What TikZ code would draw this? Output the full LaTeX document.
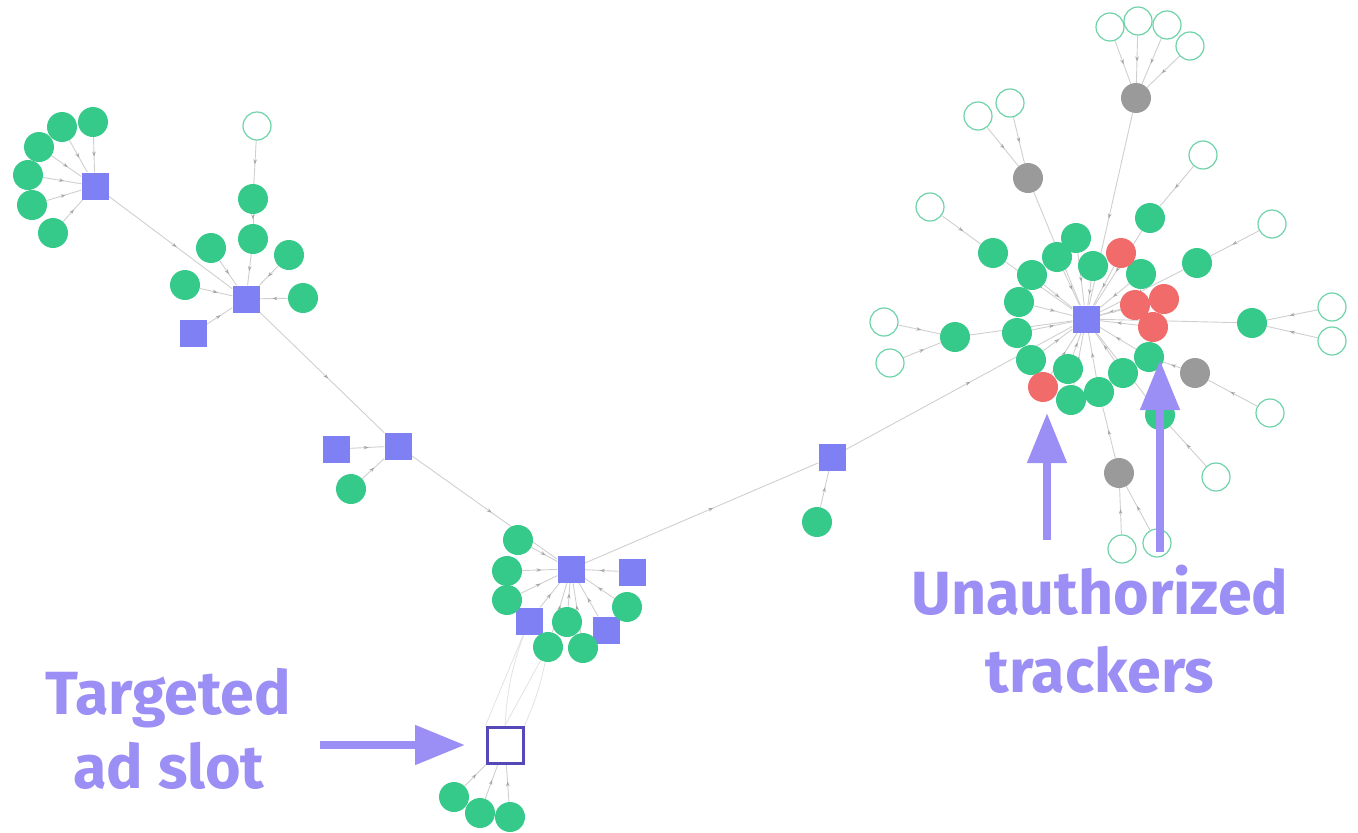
\documentclass[tikz,border=0pt]{standalone}
\usepackage{fontspec}
\newfontfamily\calloutfont{Fira Sans}
\usetikzlibrary{arrows.meta,decorations.markings}
\pgfdeclarelayer{background}
\pgfsetlayers{background,main}
\definecolor{sitegreen}{HTML}{35C98A}
\definecolor{pageblue}{HTML}{8080F5}
\definecolor{trackred}{HTML}{F26B6B}
\definecolor{cdngray}{HTML}{9A9A9A}
\definecolor{leafgreen}{HTML}{6ED3A8}
\definecolor{edgegray}{HTML}{CFCFCF}
\definecolor{calloutpurple}{HTML}{9B8FF5}
\definecolor{slotpurple}{HTML}{5548B8}
\tikzset{
  site/.style={circle,fill=sitegreen,inner sep=0,minimum size=30pt},
  tracker/.style={circle,fill=trackred,inner sep=0,minimum size=30pt},
  cdn/.style={circle,fill=cdngray,inner sep=0,minimum size=30pt},
  leaf/.style={circle,draw=leafgreen,line width=1.2pt,fill=white,inner sep=0,minimum size=28pt},
  frame/.style={rectangle,fill=pageblue,inner sep=0,minimum size=27pt},
  slotbox/.style={rectangle,draw=slotpurple,line width=3pt,fill=white,inner sep=0,minimum size=36pt},
  callout/.style={font=\calloutfont\bfseries\fontsize{61}{72}\selectfont,text=calloutpurple,inner sep=0,anchor=base},
  callarrow/.style={draw=calloutpurple,line width=8pt,-{Triangle[length=50pt,width=38pt]}}
}
\begin{document}
\begin{tikzpicture}[x=1pt,y=-1pt]
\useasboundingbox (0,0) rectangle (1358,833);
        % pages and frames
        \begin{scope}[every node/.style={frame}]
        \node (frameA) at (95,186) {};
        \node (frameB) at (246,299) {};
        \node (frameB2) at (193,333) {};
        \node (frameC) at (336,449) {};
        \node (frameD) at (398,446) {};
        \node (frameE) at (571,569) {};
        \node (frameE1) at (529,621) {};
        \node (frameE2) at (606,630) {};
        \node (frameE3) at (632,572) {};
        \node (frameF) at (832,457) {};
        \node (hub) at (1086,319) {};
        \end{scope}
        \node[slotbox] (slot) at (505,745) {};
        % first party sites
        \begin{scope}[every node/.style={site}]
        \node (sA1) at (93,122) {};
        \node (sA2) at (62,127) {};
        \node (sA3) at (39,147) {};
        \node (sA4) at (28,175) {};
        \node (sA5) at (32,205) {};
        \node (sA6) at (53,233) {};
        \node (sB1) at (185,285) {};
        \node (sB2) at (211,248) {};
        \node (sB3) at (253,239) {};
        \node (sB4) at (289,255) {};
        \node (sB5) at (303,298) {};
        \node (sB6) at (253,199) {};
        \node (sD1) at (351,489) {};
        \node (sE1) at (518,540) {};
        \node (sE2) at (507,571) {};
        \node (sE3) at (507,600) {};
        \node (sE4) at (567,622) {};
        \node (sE5) at (548,647) {};
        \node (sE6) at (583,648) {};
        \node (sE7) at (627,607) {};
        \node (sS1) at (454,797) {};
        \node (sS2) at (480,813) {};
        \node (sS3) at (510,817) {};
        \node (sF1) at (817,522) {};
        \node (h1) at (1032,275) {};
        \node (h2) at (1057,257) {};
        \node (h3) at (1076,238) {};
        \node (h4) at (1093,266) {};
        \node (h5) at (1141,274) {};
        \node (h6) at (1019,302) {};
        \node (h7) at (1017,333) {};
        \node (h8) at (1031,360) {};
        \node (h9) at (1068,369) {};
        \node (h10) at (1071,400) {};
        \node (h11) at (1099,392) {};
        \node (h12) at (1123,373) {};
        \node (h13) at (1149,357) {};
        \node (h14) at (993,253) {};
        \node (h15) at (1150,218) {};
        \node (h16) at (1197,263) {};
        \node (h17) at (1252,323) {};
        \node (h18) at (955,337) {};
        \node (h19) at (1160,415) {};
        \end{scope}
        % trackers
        \begin{scope}[every node/.style={tracker}]
        \node (r1) at (1121,253) {};
        \node (r2) at (1135,305) {};
        \node (r3) at (1164,299) {};
        \node (r4) at (1153,327) {};
        \node (r5) at (1043,387) {};
        \end{scope}
        \begin{scope}[every node/.style={cdn}]
        \node (g1) at (1136,98) {};
        \node (g2) at (1028,178) {};
        \node (g3) at (1195,373) {};
        \node (g4) at (1119,473) {};
        \end{scope}
        \begin{scope}[every node/.style={leaf}]
        \node (leafB) at (257,126) {};
        \node (l1) at (1110,27) {};
        \node (l2) at (1138,21) {};
        \node (l3) at (1167,25) {};
        \node (l4) at (1190,46) {};
        \node (l5) at (978,116) {};
        \node (l6) at (1010,103) {};
        \node (l7) at (930,207) {};
        \node (l8) at (1203,155) {};
        \node (l9) at (1272,224) {};
        \node (l10) at (1332,307) {};
        \node (l11) at (1332,341) {};
        \node (l12) at (884,322) {};
        \node (l13) at (890,363) {};
        \node (l14) at (1270,413) {};
        \node (l15) at (1216,477) {};
        \node (l16) at (1122,549) {};
        \node (l17) at (1157,543) {};
        \end{scope}
        % links
        \begin{pgfonlayer}{background}
        \begin{scope}[every edge/.style={draw=edgegray,line width=0.9pt,postaction={decorate},
            decoration={markings,mark=at position 0.55 with {\arrow[gray!70]{Stealth[length=5pt,width=3.5pt]}}}}]
        \foreach \n in {sA1,sA2,sA3,sA4,sA5,sA6}
          \path (\n) edge (frameA);
        \foreach \n in {sB1,sB2,sB3,sB4,sB5,frameB2}
          \path (\n) edge (frameB);
        \path (sB6) edge (sB3);
        \path (leafB) edge (sB6);
        \path (frameA) edge (frameB);
        \path (frameB) edge (frameD);
        \path (frameC) edge (frameD);
        \path (sD1) edge (frameD);
        \path (frameD) edge (frameE);
        \foreach \n in {sE1,sE2,sE3,frameE1,sE4,frameE2,sE5,sE6,sE7,frameE3}
          \path (\n) edge (frameE);
        \path (frameE) edge (frameF);
        \path (sF1) edge (frameF);
        \path (frameF) edge (hub);
        \foreach \n in {h1,h2,h3,h4,h5,h6,h7,h8,h9,h10,h11,h12,h13,h14,h15,h16,h17,h18,h19,r1,r2,r3,r4,r5,g1,g2}
          \path (\n) edge (hub);
        \path (g3) edge (h13);
        \path (g4) edge (h11);
        \foreach \n in {l1,l2,l3,l4}
          \path (\n) edge (g1);
        \path (l5) edge (g2);
        \path (l6) edge (g2);
        \path (l7) edge (h14);
        \path (l8) edge (h15);
        \path (l9) edge (h16);
        \path (l10) edge (h17);
        \path (l11) edge (h17);
        \path (l12) edge (h18);
        \path (l13) edge (h18);
        \path (l14) edge (g3);
        \path (l15) edge (h19);
        \path (l16) edge (g4);
        \path (l17) edge (g4);
        \foreach \n in {sS1,sS2,sS3}
          \path (\n) edge (slot);
        \end{scope}
        \begin{scope}[every edge/.style={draw=edgegray!60,line width=0.8pt}]
        \path (frameE1) edge (slot.north west);
        \path (frameE1) edge[bend right=8] (slot.north);
        \path (sE5) edge (slot.north);
        \path (sE5) edge[bend left=6] (slot.north east);
        \end{scope}
        \end{pgfonlayer}
        % callouts
        \node[callout] (lblTarget) at (168,714) {Targeted};
        \node[callout] (lblSlot) at (169,788) {ad slot};
        \node[callout] (lblUnauth) at (1100,614) {Unauthorized};
        \node[callout] (lblTrack) at (1100,692) {trackers};
        \coordinate (slotTail) at (320,745);
        \coordinate (slotTip) at (465,745);
        \coordinate (trackTailA) at (1047,540);
        \coordinate (trackTipA) at (1047,413);
        \coordinate (trackTailB) at (1160,552);
        \coordinate (trackTipB) at (1160,360);
        \draw[callarrow] (slotTail) -- (slotTip);
        \draw[callarrow] (trackTailA) -- (trackTipA);
        \draw[callarrow] (trackTailB) -- (trackTipB);
\end{tikzpicture}
\end{document}
